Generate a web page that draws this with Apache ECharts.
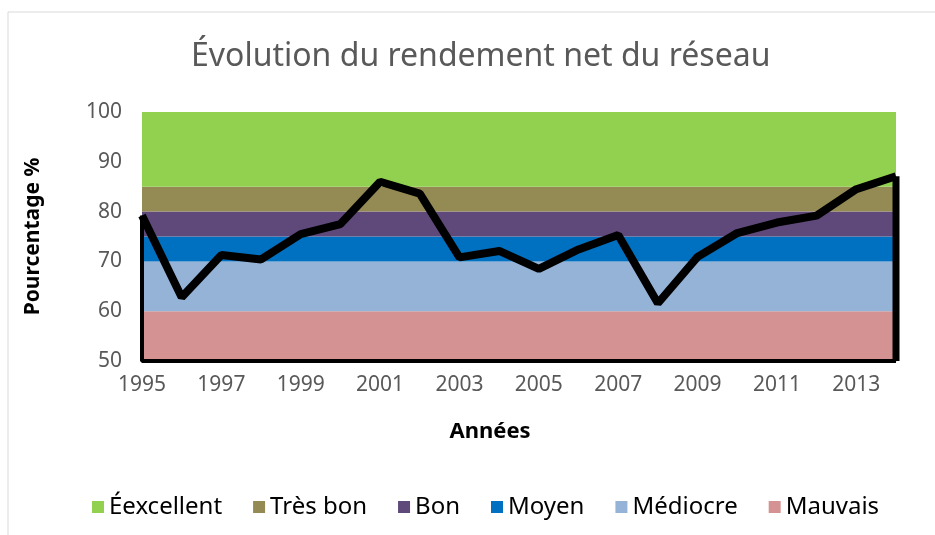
<!DOCTYPE html>
<html>
<head>
<meta charset="utf-8">
<script src="https://cdn.jsdelivr.net/npm/echarts@6/dist/echarts.min.js"></script>
<style>
  html, body { margin: 0; padding: 0; background: #fff; }
  #main { width: 935px; height: 535px; }
</style>
</head>
<body>
<div id="main"></div>
<script>
// années et rendement net (%)
var annees = ['1995', '1996', '1997', '1998', '1999', '2000', '2001', '2002', '2003', '2004',
  '2005', '2006', '2007', '2008', '2009', '2010', '2011', '2012', '2013', '2014'];
var rendement = [79.2, 62.8, 71.3, 70.4, 75.5, 77.5, 86.0, 83.6, 70.8, 72.1,
  68.5, 72.4, 75.3, 61.6, 70.9, 75.7, 77.8, 79.2, 84.5, 87.1];

// classes de rendement, du bas vers le haut (épaisseur de chaque bande)
var classes = ['Mauvais', 'Médiocre', 'Moyen', 'Bon', 'Très bon', 'Éexcellent'];
var epaisseurs = [60, 10, 5, 5, 5, 15];
var couleurs = ['#d49392', '#95b3d7', '#0070c0', '#5f497a', '#948a54', '#92d050'];

var yMin = 50;
var dernier = annees.length - 1;

var myChart = echarts.init(document.getElementById('main'));

var series = classes.map(function (nom, i) {
  return {
    name: nom,
    type: 'line',
    stack: 'classes',
    symbol: 'none',
    lineStyle: { width: 0 },
    areaStyle: { color: couleurs[i], opacity: 1 },
    itemStyle: { color: couleurs[i] },
    silent: true,
    data: annees.map(function () { return epaisseurs[i]; })
  };
});

// bord de la zone Excel : côté droit (épais), base et côté gauche
series.push({
  name: 'bord droit',
  type: 'line',
  symbol: 'none',
  silent: true,
  lineStyle: { color: '#000', width: 7 },
  z: 4,
  data: [[annees[dernier], rendement[dernier]], [annees[dernier], yMin]]
});
series.push({
  name: 'bord',
  type: 'line',
  symbol: 'none',
  silent: true,
  lineStyle: { color: '#000', width: 4 },
  z: 4,
  data: [[annees[dernier], yMin], [annees[0], yMin], [annees[0], rendement[0]]]
});

series.push({
  name: 'Rendement',
  type: 'line',
  symbol: 'none',
  lineStyle: { color: '#000', width: 8 },
  z: 5,
  data: rendement
});

myChart.setOption({
  animation: false,
  backgroundColor: '#fff',
  graphic: [{
    type: 'rect',
    shape: { x: 8, y: 12, width: 1000, height: 1000 },
    style: { fill: 'none', stroke: '#d9d9d9', lineWidth: 1 },
    z: -1
  }],
  title: {
    text: 'Évolution du rendement net du réseau',
    left: 186,
    top: 36,
    textStyle: { fontFamily: 'Noto Sans', fontSize: 32, fontWeight: 'normal', color: '#595959' }
  },
  legend: {
    data: classes.slice().reverse(),
    top: 495,
    left: 92,
    padding: 0,
    icon: 'rect',
    itemWidth: 12,
    itemHeight: 12,
    itemGap: 31,
    textStyle: { fontFamily: 'Noto Sans', fontSize: 24, color: '#000' }
  },
  grid: { left: 142, right: 39, top: 112, bottom: 174 },
  xAxis: {
    type: 'category',
    data: annees,
    boundaryGap: false,
    name: 'Années',
    nameLocation: 'middle',
    nameGap: 60,
    nameTextStyle: {
      fontFamily: 'Noto Sans', fontSize: 22, fontWeight: 'bold', color: '#000',
      padding: [0, 58, 0, 0]
    },
    axisLine: { lineStyle: { color: '#bfbfbf', width: 1 } },
    axisTick: { show: false },
    axisLabel: { interval: 1, margin: 14, fontFamily: 'Noto Sans', fontSize: 21, color: '#595959' }
  },
  yAxis: {
    type: 'value',
    min: yMin,
    max: 100,
    interval: 10,
    name: 'Pourcentage %',
    nameLocation: 'middle',
    nameRotate: 90,
    nameGap: 98,
    nameTextStyle: { fontFamily: 'Noto Sans', fontSize: 21, fontWeight: 'bold', color: '#000' },
    axisLine: { show: false },
    axisTick: { show: false },
    splitLine: { show: false },
    axisLabel: { margin: 20, fontFamily: 'Noto Sans', fontSize: 21, color: '#595959' }
  },
  series: series
});
</script>
</body>
</html>
